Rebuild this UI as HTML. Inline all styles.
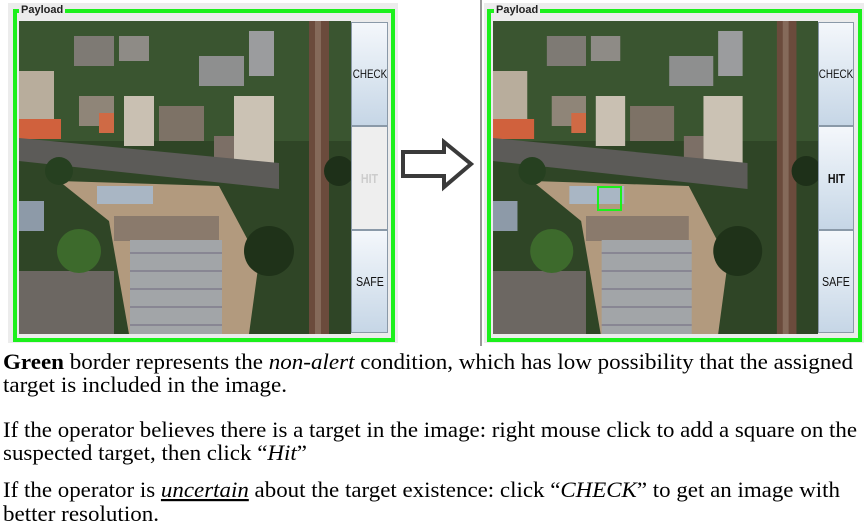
<!DOCTYPE html>
<html><head><meta charset="utf-8"><style>
html,body{margin:0;padding:0;background:#fff;width:864px;height:527px;overflow:hidden;position:relative;font-family:"Liberation Sans",sans-serif}
.abs{position:absolute}
.btn{position:absolute;box-sizing:border-box;border:1px solid #8a99a8;background:linear-gradient(#f4f7fb,#dde7f1 50%,#c6d6e6);font:12px "Liberation Sans",sans-serif;display:flex;align-items:center;justify-content:center;color:#111}
.btn span{display:inline-block;transform:scaleX(0.82)}
.txt{font-family:"Liberation Serif",serif;font-size:22px}
</style></head><body>
<svg width="0" height="0" style="position:absolute">
<defs>
<g id="scene">
<rect width="332" height="313" fill="#2f4526"/>
<rect x="0" y="0" width="332" height="120" fill="#3a5530"/>
<rect x="0" y="50" width="35" height="65" fill="#b8ad9c"/>
<rect x="60" y="75" width="35" height="30" fill="#8f8578"/>
<rect x="105" y="75" width="30" height="50" fill="#c9c0b2"/>
<rect x="140" y="85" width="45" height="35" fill="#7d7266"/>
<rect x="215" y="75" width="40" height="75" fill="#cbc2b4"/>
<rect x="230" y="10" width="25" height="45" fill="#9b9c9e"/>
<rect x="180" y="35" width="45" height="30" fill="#8e8f8f"/>
<rect x="100" y="15" width="30" height="25" fill="#8e8b86"/>
<rect x="55" y="15" width="40" height="30" fill="#7e7a74"/>
<rect x="0" y="98" width="42" height="20" fill="#d0613d"/>
<rect x="80" y="92" width="15" height="20" fill="#cf6a45"/>
<rect x="195" y="115" width="20" height="30" fill="#7c6f66"/>
<polygon points="0,117 260,142 260,168 0,140" fill="#5c5b58"/>
<rect x="290" y="0" width="20" height="313" fill="#6b4b3c"/>
<rect x="296" y="0" width="6" height="313" fill="#856a5a"/>
<polygon points="40,160 200,165 240,240 230,313 110,313 90,200" fill="#b29a7e"/>
<rect x="78" y="165" width="56" height="18" fill="#a9b6c4"/>
<rect x="95" y="195" width="105" height="25" fill="#8a7a6c"/>
<rect x="111" y="219" width="92" height="94" fill="#a2a5a8"/>
<g stroke="#7f7c8c" stroke-width="1.5"><line x1="111" y1="232" x2="203" y2="232"/><line x1="111" y1="250" x2="203" y2="250"/><line x1="111" y1="268" x2="203" y2="268"/><line x1="111" y1="286" x2="203" y2="286"/><line x1="111" y1="304" x2="203" y2="304"/></g>
<rect x="0" y="250" width="95" height="63" fill="#6c6762"/>
<rect x="0" y="180" width="25" height="30" fill="#8d9aa8"/>
<circle cx="40" cy="150" r="14" fill="#264020"/>
<circle cx="60" cy="230" r="22" fill="#3d6a2c"/>
<circle cx="250" cy="230" r="25" fill="#1f3219"/>
<circle cx="320" cy="150" r="15" fill="#1e3019"/>
</g>
</defs>
</svg>

<div class="abs" style="left:8px;top:3px;width:390px;height:340px;background:#ececec"></div>
<div class="abs" style="left:13px;top:9px;width:382px;height:333px;box-sizing:border-box;border:4px solid #1cf01c"></div>
<div class="abs" style="left:19px;top:4px;background:#ececec;font:bold 11px 'Liberation Sans',sans-serif;padding:0 2px;color:#222">Payload</div>
<svg class="abs" style="left:19px;top:21px" width="332" height="313" viewBox="0 0 332 313" preserveAspectRatio="none"><use href="#scene"/></svg>
<div class="btn" style="left:351px;top:22px;width:37px;height:104px"><span>CHECK</span></div>
<div class="btn" style="left:351px;top:126px;width:37px;height:104px;background:#eeeeee;color:#ccc;font-weight:bold;font-size:13px"><span>HIT</span></div>
<div class="btn" style="left:351px;top:230px;width:37px;height:103px;font-size:13px"><span>SAFE</span></div>

<svg class="abs" style="left:400px;top:138px" width="76" height="56"><polygon points="3,14 44,14 44,4 71,26 44,49 44,38 3,38" fill="#fff" stroke="#3a3a3a" stroke-width="4"/></svg>

<div class="abs" style="left:480px;top:0;width:2px;height:346px;background:#9a9a9a"></div>

<div class="abs" style="left:484px;top:3px;width:380px;height:340px;background:#ececec"></div>
<div class="abs" style="left:487px;top:9px;width:375px;height:333px;box-sizing:border-box;border:4px solid #1cf01c"></div>
<div class="abs" style="left:494px;top:4px;background:#ececec;font:bold 11px 'Liberation Sans',sans-serif;padding:0 2px;color:#222">Payload</div>
<svg class="abs" style="left:493px;top:21px" width="325" height="313" viewBox="0 0 332 313" preserveAspectRatio="none"><use href="#scene"/></svg>
<div class="abs" style="left:597px;top:186px;width:25px;height:25px;box-sizing:border-box;border:2px solid #1cf01c"></div>
<div class="btn" style="left:818px;top:22px;width:36px;height:104px"><span>CHECK</span></div>
<div class="btn" style="left:818px;top:126px;width:36px;height:104px;font-weight:bold;font-size:13px"><span>HIT</span></div>
<div class="btn" style="left:818px;top:230px;width:36px;height:103px;font-size:13px"><span>SAFE</span></div>

<svg class="abs txt" style="left:0;top:0" width="864" height="527" fill="#000">
<text class="txt" x="3" y="369" textLength="850" lengthAdjust="spacingAndGlyphs"><tspan font-weight="bold">Green</tspan> border represents the <tspan font-style="italic">non-alert</tspan> condition, which has low possibility that the assigned</text>
<text class="txt" x="3" y="392" textLength="284" lengthAdjust="spacingAndGlyphs">target is included in the image.</text>
<text class="txt" x="3" y="437" textLength="854" lengthAdjust="spacingAndGlyphs">If the operator believes there is a target in the image: right mouse click to add a square on the</text>
<text class="txt" x="3" y="460" textLength="304" lengthAdjust="spacingAndGlyphs">suspected target, then click “<tspan font-style="italic">Hit</tspan>”</text>
<text class="txt" x="3" y="497" textLength="837" lengthAdjust="spacingAndGlyphs">If the operator is <tspan font-style="italic" text-decoration="underline">uncertain</tspan> about the target existence: click “<tspan font-style="italic">CHECK</tspan>” to get an image with</text>
<text class="txt" x="3" y="521" textLength="156" lengthAdjust="spacingAndGlyphs">better resolution.</text>
</svg>
</body></html>
